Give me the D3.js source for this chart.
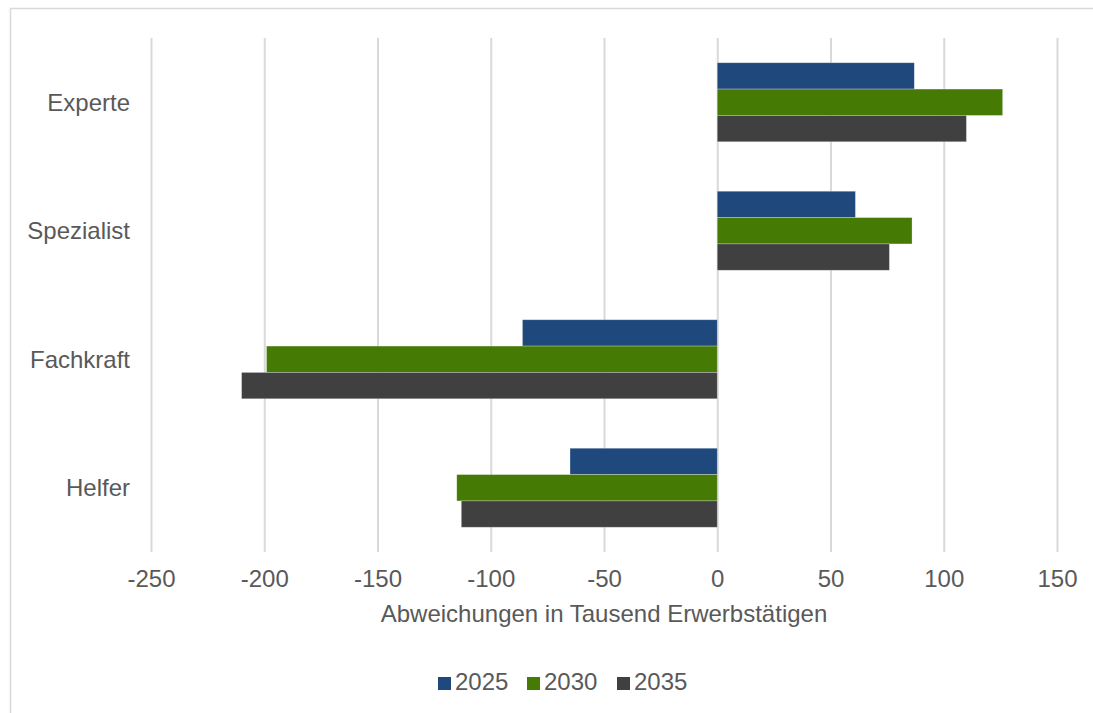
<!DOCTYPE html>
<html>
<head>
<meta charset="utf-8">
<script src="https://cdn.jsdelivr.net/npm/d3@7"></script>
<style>
  body { margin: 0; background: #fff; }
  svg { display: block; font-family: "Liberation Sans", Arial, sans-serif; }
  .axis-x .domain { display: none; }
  .axis-x .tick line { stroke: #d9d9d9; stroke-width: 2; }
  .axis-x .tick text { fill: #595959; font-size: 24px; }
</style>
</head>
<body>
<svg id="chart" width="1093" height="713"></svg>
<script>
// categories top to bottom
var categories = ["Experte", "Spezialist", "Fachkraft", "Helfer"];
var seriesNames = ["2025", "2030", "2035"];
var seriesColors = ["#1f497d", "#457a05", "#404040"];

// Abweichungen in Tausend Erwerbstätigen
var values2025 = [87, 61, -86, -65];
var values2030 = [126, 86, -199, -115];
var values2035 = [110, 76, -210, -113];
var xTicks = [-250, -200, -150, -100, -50, 0, 50, 100, 150];

var seriesValues = [values2025, values2030, values2035];

var svg = d3.select("#chart");
var margin = { top: 38, left: 151, right: 36, bottom: 161 };
var width = +svg.attr("width") - margin.left - margin.right;
var height = +svg.attr("height") - margin.top - margin.bottom;

// chart frame (cut off on the right and bottom)
svg.append("rect")
    .attr("x", 10.5).attr("y", 8.5)
    .attr("width", 1100).attr("height", 720)
    .attr("fill", "none")
    .attr("stroke", "#d9d9d9")
    .attr("stroke-width", 1.5);

var xScale = d3.scaleLinear().domain([-250, 150]).range([0, width]);
var yScale = d3.scaleBand().domain(categories).range([0, height])
    .paddingInner(0.385).paddingOuter(0.1925);
var ySeries = d3.scaleBand().domain(seriesNames).range([0, yScale.bandwidth()]);

var g = svg.append("g")
    .attr("transform", "translate(" + margin.left + "," + margin.top + ")");

var xAxis = d3.axisBottom(xScale)
    .tickValues(xTicks)
    .tickFormat(function (d) { return String(d); })
    .tickSizeInner(-height)
    .tickSizeOuter(0)
    .tickPadding(18);

g.append("g")
    .attr("class", "axis axis-x")
    .attr("transform", "translate(0," + height + ")")
    .call(xAxis);

var rows = [];
categories.forEach(function (c, i) {
    seriesNames.forEach(function (s, j) {
        rows.push({ cat: c, series: s, value: seriesValues[j][i], color: seriesColors[j] });
    });
});

g.selectAll(".bar")
    .data(rows)
    .enter().append("rect")
    .attr("class", "bar")
    .attr("x", function (d) { return xScale(Math.min(0, d.value)); })
    .attr("y", function (d) { return yScale(d.cat) + ySeries(d.series); })
    .attr("width", function (d) { return Math.abs(xScale(d.value) - xScale(0)); })
    .attr("height", ySeries.bandwidth())
    .attr("fill", function (d) { return d.color; })
    .attr("stroke", "#ffffff")
    .attr("stroke-opacity", 0.35)
    .attr("stroke-width", 0.75);

// category labels
g.selectAll(".cat-label")
    .data(categories)
    .enter().append("text")
    .attr("class", "cat-label")
    .attr("x", 130 - margin.left)
    .attr("y", function (d) { return yScale(d) + yScale.bandwidth() / 2; })
    .attr("dy", "0.35em")
    .attr("text-anchor", "end")
    .attr("fill", "#595959")
    .style("font-size", "24px")
    .text(function (d) { return d; });

// axis title
svg.append("text")
    .attr("x", margin.left + width / 2)
    .attr("y", 622)
    .attr("text-anchor", "middle")
    .attr("fill", "#595959")
    .style("font-size", "24px")
    .text("Abweichungen in Tausend Erwerbstätigen");

// legend
var legendX = [438, 527, 617];
var legend = svg.selectAll(".legend")
    .data(seriesNames)
    .enter().append("g")
    .attr("class", "legend")
    .attr("transform", function (d, i) { return "translate(" + legendX[i] + ",677)"; });

legend.append("rect")
    .attr("width", 13).attr("height", 13)
    .attr("fill", function (d, i) { return seriesColors[i]; });

legend.append("text")
    .attr("x", 17)
    .attr("y", 13)
    .attr("fill", "#595959")
    .style("font-size", "24px")
    .text(function (d) { return d; });
</script>
</body>
</html>
